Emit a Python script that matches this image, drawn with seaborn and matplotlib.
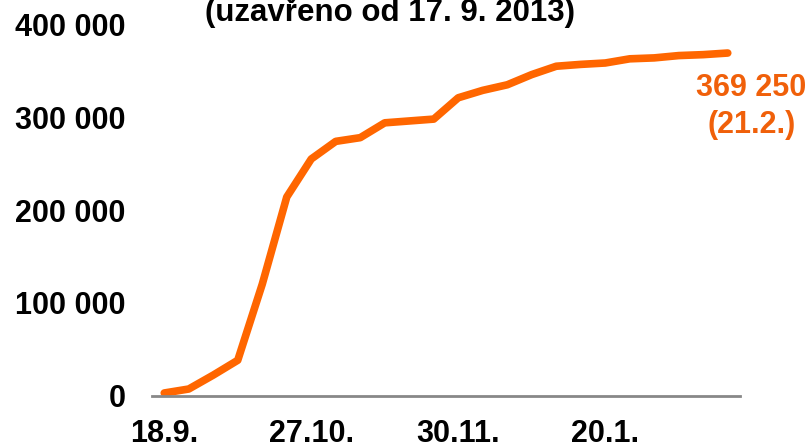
import matplotlib
matplotlib.use("Agg")
import matplotlib.pyplot as plt
import seaborn as sns
import pandas as pd

# Cumulative signature counts, one value per reporting date
signatures = [2700, 7000, 22000, 38000, 120000, 214000, 255000, 274000,
              278000, 294000, 296000, 298000, 321000, 329000, 335000, 346000,
              355000, 357000, 358500, 363000, 364000, 366500, 367500, 369250]
tick_idx = [0, 6, 12, 18]
tick_labels = ["18.9.", "27.10.", "30.11.", "20.1."]
y_ticks = [0, 100000, 200000, 300000, 400000]
y_tick_labels = ["0", "100 000", "200 000", "300 000", "400 000"]
title = "(uzavřeno od 17. 9. 2013)"
last_label = "369 250\n(21.2.)"

sns.set_theme(style="white")
plt.rcParams["font.family"] = ["Liberation Sans", "DejaVu Sans"]
plt.rcParams["font.weight"] = "bold"

df = pd.DataFrame({"i": range(len(signatures)), "n": signatures})

fig = plt.figure(figsize=(8.09, 4.44), dpi=100)
ax = fig.add_axes([152 / 809, 1 - 395.5 / 444, (740 - 152) / 809, (395.5 - 24.5) / 444])

orange = "#FF6600"
sns.lineplot(data=df, x="i", y="n", ax=ax, color=orange, linewidth=5.5,
             solid_capstyle="round", solid_joinstyle="round")

ax.set_xlim(-0.5, len(signatures) - 0.5)
ax.set_ylim(0, 400000)
ax.set_xticks(tick_idx)
ax.set_xticklabels(tick_labels, fontsize=22, fontweight="bold", color="black")
ax.set_yticks(y_ticks)
ax.set_yticklabels(y_tick_labels, fontsize=22, fontweight="bold", color="black")
ax.tick_params(axis="x", length=0, pad=17)
ax.tick_params(axis="y", length=0, pad=19)
ax.set_xlabel("")
ax.set_ylabel("")

for s in ["top", "right", "left"]:
    ax.spines[s].set_visible(False)
ax.spines["bottom"].set_color("#888888")
ax.spines["bottom"].set_linewidth(2)

ax.annotate(last_label, xy=(len(signatures) - 1, signatures[-1]),
            xytext=(17, -38.5), textcoords="offset points",
            ha="center", va="center", fontsize=22, fontweight="bold",
            color="#F0600A", linespacing=1.3, annotation_clip=False)

fig.text(390 / 809, 1 - 21 / 444, title, ha="center", va="baseline",
         fontsize=22.5, fontweight="bold", color="black")

fig.savefig("out.png", dpi=100)
